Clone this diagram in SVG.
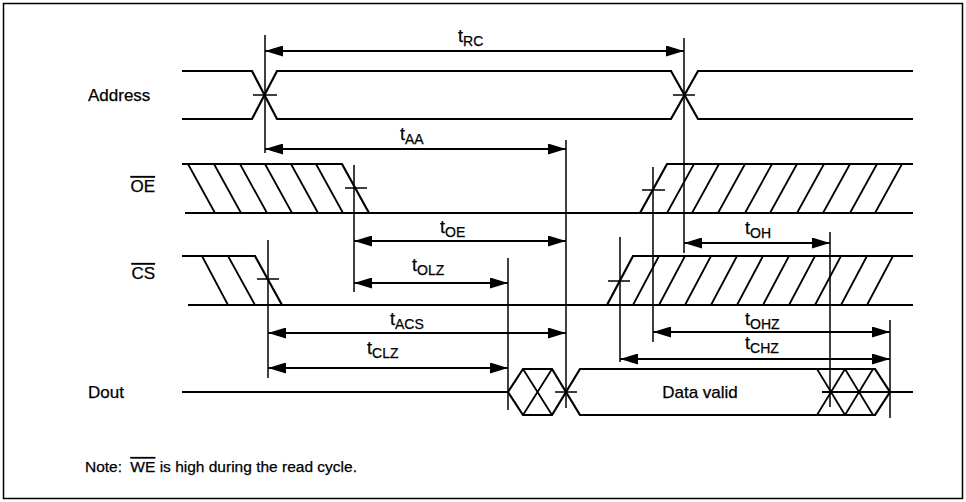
<svg xmlns="http://www.w3.org/2000/svg" width="966" height="502" viewBox="0 0 966 502">
<defs>
<marker id="ah" viewBox="0 0 18 11" refX="18" refY="5.5" markerWidth="18" markerHeight="11" markerUnits="userSpaceOnUse" orient="auto-start-reverse">
<path d="M0,0 L18,5.5 L0,11 Z" fill="#000"/>
</marker>
<style>
.sig{fill:none;stroke:#000;stroke-width:2.2;stroke-linejoin:miter}
.h{fill:none;stroke:#000;stroke-width:1.8}
.v{fill:none;stroke:#000;stroke-width:1.5}
.arr{fill:none;stroke:#000;stroke-width:1.8;marker-start:url(#ah);marker-end:url(#ah)}
.lbl{font-family:"Liberation Sans",Arial,sans-serif;font-size:17px;fill:#000;stroke:#000;stroke-width:0.25}
.t{font-family:"Liberation Sans",Arial,sans-serif;font-size:18px;fill:#000;stroke:#000;stroke-width:0.25}
.sub{font-size:14px}
</style>
</defs>
<rect x="3.5" y="3.5" width="959" height="495" fill="#fff" stroke="#000" stroke-width="1.5"/>

<g id="address">
<text class="lbl" x="88" y="101">Address</text>
<path class="sig" d="M182,71 H252 L277,119 H671 L698,71 H913"/>
<path class="sig" d="M182,119 H252 L277,71 H671 L698,119 H913"/>
</g>

<g id="oe">
<text class="lbl" x="155" y="192" text-anchor="end"><tspan text-decoration="overline">OE</tspan></text>
<path class="sig" d="M182,164 H342 L369,213"/>
<path class="sig" d="M185,213 H913"/>
<path class="h" d="M188,164 L215,213 M214,164 L241,213 M240,164 L267,213 M265,164 L292,213 M291,164 L318,213 M316,164 L343,213"/>
<path class="sig" d="M640,213 L667,164 H913"/>
<path class="h" d="M667,213 L694,164 M692,213 L719,164 M718,213 L745,164 M745,213 L772,164 M770,213 L797,164 M797,213 L824,164 M823,213 L850,164 M850,213 L877,164 M875,213 L902,164"/>
</g>

<g id="cs">
<text class="lbl" x="155" y="279" text-anchor="end"><tspan text-decoration="overline">CS</tspan></text>
<path class="sig" d="M182,256 H255 L282,305"/>
<path class="h" d="M202,256 L228,305 M228,256 L255,305"/>
<path class="sig" d="M188,305 H913"/>
<path class="sig" d="M607,305 L633,256 H913"/>
<path class="h" d="M633,305 L659,256 M659,305 L685,256 M685,305 L711,256 M711,305 L737,256 M737,305 L763,256 M763,305 L789,256 M789,305 L815,256 M815,305 L841,256 M841,305 L867,256 M867,305 L893,256"/>
</g>

<g id="dout">
<text class="lbl" x="88" y="398">Dout</text>
<path class="sig" d="M182,392 H508"/>
<path class="sig" d="M508,392 L523,369 H552 L566,392 L552,415 H523 Z"/>
<path class="h" d="M523,369 L552,415 M523,415 L552,369"/>
<path class="sig" d="M566,392 L580,369 H875 L890,392 L875,415 H580 Z"/>
<path class="h" d="M817,369 L845,415 M817,415 L845,369 M845,369 L873,415 M845,415 L873,369"/>
<path class="h" d="M822,392 H913"/>
<text class="lbl" x="700" y="398" text-anchor="middle">Data valid</text>
</g>

<g id="connectors">
<path class="v" d="M265,35 V153 M684,38 V253 M566,140 V408 M354,165 V292 M268,240 V378 M508,258 V410 M653,167 V342 M620,237 V362 M830,232 V407 M890,320 V418"/>
<path class="v" d="M253,95 H277 M673,95 H695 M345,188 H367 M642,190 H665 M257,279 H279 M608,281 H630 M555,392 H577"/>
<line class="arr" x1="265" y1="51" x2="684" y2="51"/>
<line class="arr" x1="265" y1="149" x2="566" y2="149"/>
<line class="arr" x1="354" y1="241" x2="566" y2="241"/>
<line class="arr" x1="354" y1="283" x2="508" y2="283"/>
<line class="arr" x1="684" y1="243" x2="830" y2="243"/>
<line class="arr" x1="268" y1="333" x2="566" y2="333"/>
<line class="arr" x1="268" y1="368" x2="508" y2="368"/>
<line class="arr" x1="653" y1="332" x2="890" y2="332"/>
<line class="arr" x1="620" y1="359" x2="890" y2="359"/>
<text class="t" x="458" y="42">t<tspan class="sub" dy="4">RC</tspan></text>
<text class="t" x="400" y="140">t<tspan class="sub" dy="4">AA</tspan></text>
<text class="t" x="440" y="233">t<tspan class="sub" dy="4">OE</tspan></text>
<text class="t" x="412" y="271">t<tspan class="sub" dy="4">OLZ</tspan></text>
<text class="t" x="745" y="234">t<tspan class="sub" dy="4">OH</tspan></text>
<text class="t" x="390" y="325">t<tspan class="sub" dy="4">ACS</tspan></text>
<text class="t" x="367" y="354">t<tspan class="sub" dy="4">CLZ</tspan></text>
<text class="t" x="745" y="325">t<tspan class="sub" dy="4">OHZ</tspan></text>
<text class="t" x="745" y="349">t<tspan class="sub" dy="4">CHZ</tspan></text>
</g>

<text class="lbl" x="85" y="472" style="font-size:15.5px">Note: <tspan dx="4" text-decoration="overline">WE</tspan> is high during the read cycle.</text>
</svg>
